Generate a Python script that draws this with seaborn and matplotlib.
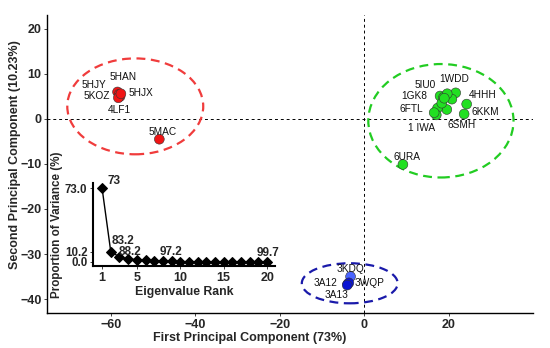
import matplotlib
matplotlib.use("Agg")
import matplotlib.pyplot as plt
from matplotlib.patches import Ellipse
import seaborn as sns
import pandas as pd

# PCA scores
pdb_ids = ["5HAN", "5HJY", "5KOZ", "5HJX", "4LF1", "5MAC",
           "1WDD", "4HHH", "6KKM", "6SMH", "5IU0", "1GK8", "6FTL", "1 IWA", "6URA",
           "", "", "", "", "",
           "3KDQ", "3A12", "3WQP", "3A13"]
pc1 = [-58.4, -58.0, -57.8, -58.2, -57.6, -48.5,
       21.7, 24.3, 23.7, 19.6, 18.0, 18.8, 17.4, 17.1, 9.2,
       20.8, 19.7, 16.6, 18.4, 19.0,
       -3.2, -3.9, -3.6, -4.0]
pc2 = [6.0, 5.5, 5.0, 4.7, 5.6, -4.5,
       5.8, 3.3, 1.1, 2.1, 5.1, 4.8, 2.4, 0.9, -10.1,
       4.4, 5.6, 1.4, 3.5, 4.6,
       -35.0, -36.7, -36.4, -36.9]
group = ["red"] * 6 + ["green"] * 14 + ["lightblue", "blue", "blue", "blue"]

# scree plot
rank = list(range(1, 21))
prop_var = [73.0, 10.2, 5.0, 2.8, 2.4, 1.5, 1.3, 1.0, 0.5, 0.4,
            0.3, 0.3, 0.2, 0.2, 0.15, 0.15, 0.1, 0.1, 0.05, 0.05]
cum_labels = {1: "73", 2: "83.2", 3: "88.2", 8: "97.2", 20: "99.7"}

# where the text labels sit
label_pos = {
    "5HAN": (-57.0, 9.4), "5HJY": (-63.9, 7.6), "5KOZ": (-63.2, 5.1),
    "5HJX": (-52.8, 5.7), "4LF1": (-58.0, 2.0), "5MAC": (-47.6, -3.0),
    "1WDD": (21.3, 8.9), "4HHH": (28.2, 5.3), "6KKM": (28.7, 1.5),
    "6SMH": (23.1, -1.3), "5IU0": (14.5, 7.5), "1GK8": (11.8, 5.0),
    "6FTL": (11.3, 2.2), "1 IWA": (13.7, -1.9), "6URA": (10.1, -8.5),
    "3KDQ": (-3.3, -33.4), "3A12": (-9.2, -36.5), "3WQP": (1.4, -36.5),
    "3A13": (-6.5, -39.0),
}
cum_label_pos = {1: (2.4, 80), 2: (3.4, 20.5), 3: (4.2, 9.5), 8: (8.9, 10), 20: (20.1, 9)}

sns.set_theme(style="ticks")
plt.rcParams["font.family"] = ["Liberation Sans", "DejaVu Sans"]

palette = {"red": "#f01414", "green": "#22e022", "lightblue": "#4a64ff", "blue": "#0a14d2"}

df = pd.DataFrame({"pc1": pc1, "pc2": pc2, "group": group, "id": pdb_ids})

fig = plt.figure(figsize=(5.5, 3.48), dpi=100)
ax = fig.add_axes([0.0855, 0.1006, 0.8835, 0.8564])

ax.axhline(0, color="black", lw=0.7, ls=(0, (3, 3)), zorder=1)
ax.axvline(0, color="black", lw=0.7, ls=(0, (3, 3)), zorder=1)

sns.scatterplot(data=df, x="pc1", y="pc2", hue="group", palette=palette,
                s=50, edgecolor="#333333", linewidth=0.4, legend=False, ax=ax, zorder=3)

for name, (tx, ty) in label_pos.items():
    ax.text(tx, ty, name, fontsize=7.3, ha="center", va="center", color="#111111", zorder=4)

# group ellipses
ellipses = [((-54.2, 2.8), 32.2, 21.3, "#f03c3c"),
            ((18.2, -0.4), 34.4, 25.2, "#22cc22"),
            ((-3.4, -36.5), 22.7, 8.9, "#1a1aaa")]
for (cx, cy), w, h, c in ellipses:
    ax.add_patch(Ellipse((cx, cy), w, h, fill=False, ec=c, lw=1.6,
                         ls=(0, (4, 2.5)), zorder=2))

ax.set_xlim(-75.1, 40)
ax.set_ylim(-43.1, 23.1)
ax.set_xticks([-60, -40, -20, 0, 20])
ax.set_yticks([-40, -30, -20, -10, 0, 10, 20])
sns.despine(ax=ax)
for s in ["left", "bottom"]:
    ax.spines[s].set_linewidth(1.0)
    ax.spines[s].set_color("black")
ax.tick_params(length=2.5, width=0.6, pad=1.5, labelsize=9)
for t in ax.get_xticklabels() + ax.get_yticklabels():
    t.set_fontweight("bold")
ax.set_xlabel("First Principal Component (73%)", fontsize=9, fontweight="bold", va="center")
ax.set_ylabel("Second Principal Component (10.23%)", fontsize=9, fontweight="bold", va="center")
# label centres, in axes fractions
ax.xaxis.set_label_coords((250 - 47) / 486, (313 - 338) / 298)
ax.yaxis.set_label_coords((15 - 47) / 486, (313 - 155) / 298)

# inset scree plot
ins = fig.add_axes([0.169, 0.2356, 0.331, 0.2385])
ins.patch.set_alpha(0)
sns.lineplot(x=rank, y=prop_var, marker="D", markersize=5, color="black",
             markeredgecolor="black", lw=1.0, ax=ins)
for r, txt in cum_labels.items():
    tx, ty = cum_label_pos[r]
    ins.text(tx, ty, txt, fontsize=8.5, fontweight="bold",
             ha="center", va="center", clip_on=False)
ins.set_xlim(-0.05, 20.9)
ins.set_ylim(-4, 78)
ins.set_xticks([1, 5, 10, 15, 20])
ins.set_yticks([0.0, 10.2, 73.0])
ins.set_yticklabels(["0.0", "10.2", "73.0"])
sns.despine(ax=ins)
for s in ["left", "bottom"]:
    ins.spines[s].set_linewidth(1.5)
    ins.spines[s].set_color("black")
ins.tick_params(length=2.5, width=0.6, pad=1.5, labelsize=9)
ins.tick_params(axis="y", labelsize=8.3)
for t in ins.get_xticklabels() + ins.get_yticklabels():
    t.set_fontweight("bold")
ins.set_xlabel("Eigenvalue Rank", fontsize=8.8, fontweight="bold", va="center")
ins.set_ylabel("Proportion of Variance (%)", fontsize=8.4, fontweight="bold", va="center")
ins.xaxis.set_label_coords((184.5 - 93) / 182, (266 - 292) / 83)
ins.yaxis.set_label_coords((57 - 93) / 182, (266 - 225) / 83)

fig.savefig("out.png", dpi=100)
